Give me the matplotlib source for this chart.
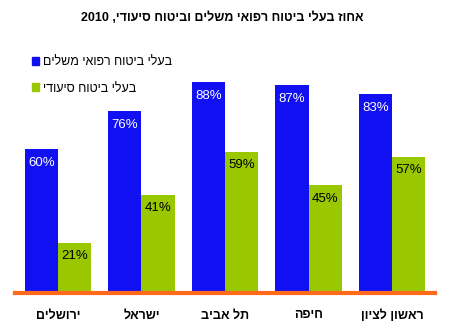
import numpy as np
import matplotlib
matplotlib.use("Agg")
import matplotlib.pyplot as plt
from matplotlib.patches import Patch

# data: share of insured (%) by city, 2010
cities = ["ירושלים", "ישראל", "תל אביב", "חיפה", "ראשון לציון"]
supplementary = [60, 76, 88, 87, 83]
nursing = [21, 41, 59, 45, 57]
series_names = ["בעלי ביטוח רפואי משלים", "בעלי ביטוח סיעודי"]
title = "אחוז בעלי ביטוח רפואי משלים וביטוח סיעודי"
year = "2010"

BLUE = "#1010f2"
GREEN = "#99c800"
ORANGE = "#ff6a1a"


def rtl(s):
    # matplotlib has no bidi support, so hebrew strings are reversed by hand
    return s[::-1]


plt.rcParams['font.family'] = ['Liberation Sans', 'DejaVu Sans']

fig = plt.figure(figsize=(4.5, 3.26), dpi=100)
ax = fig.add_axes([0.0333, 0.102, 0.9334, 0.733])

x = np.arange(len(cities))
w = 0.4
b1 = ax.bar(x - w / 2, supplementary, w, color=BLUE, linewidth=0)
b2 = ax.bar(x + w / 2, nursing, w, color=GREEN, linewidth=0)

for rect, v in zip(b1, supplementary):
    ax.text(rect.get_x() + rect.get_width() / 2, v - 3.2, f"{v}%",
            ha="center", va="top", color="white", fontsize=9.5)
for rect, v in zip(b2, nursing):
    ax.text(rect.get_x() + rect.get_width() / 2, v - 3.2, f"{v}%",
            ha="center", va="top", color="black", fontsize=9.5)

ax.set_xlim(-0.515, 4.515)
ax.set_ylim(0, 100)
for s in ["top", "right", "left"]:
    ax.spines[s].set_visible(False)
ax.spines["bottom"].set_color(ORANGE)
ax.spines["bottom"].set_linewidth(3)
ax.set_yticks([])
ax.set_xticks(x)
ax.set_xticklabels([rtl(c) for c in cities], fontsize=9, fontweight="bold")
ax.tick_params(axis="x", length=0, pad=12)

fig.text(0.493, 0.945, year + " ," + rtl(title), ha="center", va="center",
         fontsize=9, fontweight="bold")

handles = [Patch(color=BLUE), Patch(color=GREEN)]
fig.legend(handles, [rtl(n) for n in series_names], loc="upper left",
           bbox_to_anchor=(0.045, 0.862), frameon=False, fontsize=9,
           handlelength=0.6, handleheight=0.6, handletextpad=0.3,
           labelspacing=1.15)

fig.savefig("out.png", dpi=100)
